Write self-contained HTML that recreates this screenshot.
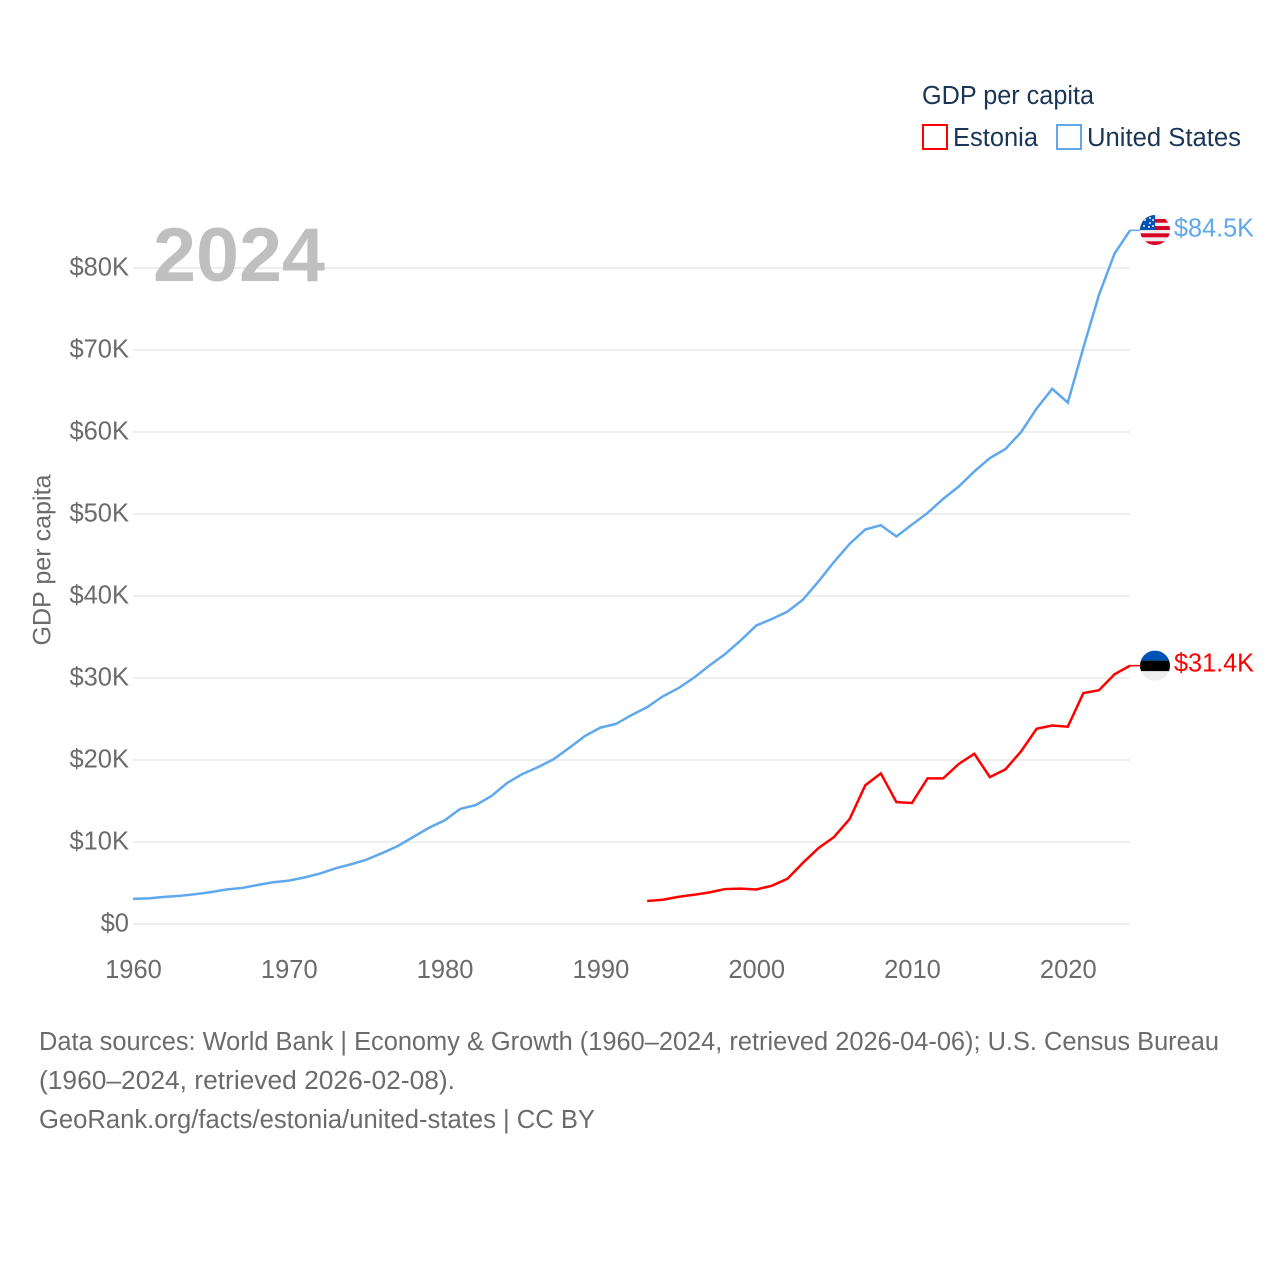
<!DOCTYPE html>
<html lang="en">
<head>
<meta charset="utf-8">
<title>GDP per capita: Estonia and United States</title>
<style>
html,body{margin:0;padding:0;background:#fff;width:1280px;height:1280px;overflow:hidden}
svg{display:block}
text{font-family:"Liberation Sans",sans-serif}
</style>
</head>
<body>
<svg id="chart" width="1280" height="1280" viewBox="0 0 1280 1280" xmlns="http://www.w3.org/2000/svg">
  <defs>
    <clipPath id="flag-clip"><circle cx="0" cy="0" r="15"></circle></clipPath>
  </defs>
  <rect x="0" y="0" width="1280" height="1280" fill="#ffffff"></rect>

  <g id="grid"></g>
  <g id="yticks"></g>
  <g id="xticks"></g>

  <text transform="translate(50.5 560) rotate(-90)" text-anchor="middle" font-size="25" fill="#6b6b6b" textLength="171" lengthAdjust="spacingAndGlyphs">GDP per capita</text>

  <text x="153" y="281" font-size="76" font-weight="700" fill="#bfbfbf" textLength="172" lengthAdjust="spacingAndGlyphs">2024</text>

  <g id="series" transform="translate(0 -0.5)"></g>

  <g id="flag-us">
    <g clip-path="url(#flag-clip)">
      <rect x="-15" y="-15" width="30" height="30" fill="#eeeeee"></rect>
      <rect x="-15" y="-11" width="30" height="3.7" fill="#d80027"></rect>
      <rect x="-15" y="-4" width="30" height="4" fill="#d80027"></rect>
      <rect x="-15" y="3.3" width="30" height="4" fill="#d80027"></rect>
      <rect x="-15" y="11.3" width="30" height="4" fill="#d80027"></rect>
      <rect x="-15" y="-15" width="15" height="15" fill="#0052b4"></rect>
      <circle cx="-10" cy="-10" r="1" fill="#eeeeee"></circle>
      <circle cx="-5" cy="-12" r="1" fill="#eeeeee"></circle>
      <circle cx="-5" cy="-7" r="1" fill="#eeeeee"></circle>
      <circle cx="-2" cy="-10" r="1" fill="#eeeeee"></circle>
      <circle cx="-11" cy="-4" r="1" fill="#eeeeee"></circle>
      <circle cx="-6" cy="-3" r="1" fill="#eeeeee"></circle>
      <circle cx="-2" cy="-4" r="1" fill="#eeeeee"></circle>
    </g>
  </g>
  <g id="flag-ee">
    <g clip-path="url(#flag-clip)">
      <rect x="-15" y="-15" width="30" height="30" fill="#eeeeee"></rect>
      <rect x="-15" y="-15" width="30" height="10" fill="#0052b4"></rect>
      <rect x="-15" y="-5" width="30" height="10.5" fill="#000000"></rect>
    </g>
  </g>

  <text id="label-us" x="1174" font-size="25.5" fill="#5fa8ee" textLength="80" lengthAdjust="spacingAndGlyphs"></text>
  <text id="label-ee" x="1174" font-size="25.5" fill="#ff0000" textLength="80" lengthAdjust="spacingAndGlyphs"></text>

  <g>
    <text x="922" y="104" font-size="25.5" fill="#1a3556" textLength="172" lengthAdjust="spacingAndGlyphs">GDP per capita</text>
    <g>
      <rect x="923" y="125" width="24" height="24" fill="none" stroke="#ff0000" stroke-width="2"></rect>
      <text x="953" y="146" font-size="25.5" fill="#1a3556" textLength="85" lengthAdjust="spacingAndGlyphs">Estonia</text>
    </g>
    <g>
      <rect x="1057" y="125" width="24" height="24" fill="none" stroke="#5fa8ee" stroke-width="2"></rect>
      <text x="1087" y="146" font-size="25.5" fill="#1a3556" textLength="154" lengthAdjust="spacingAndGlyphs">United States</text>
    </g>
  </g>

  <g font-size="25.5" fill="#6b6b6b">
    <text x="39" y="1050" textLength="1180" lengthAdjust="spacingAndGlyphs">Data sources: World Bank | Economy &amp; Growth (1960–2024, retrieved 2026-04-06); U.S. Census Bureau</text>
    <text x="39" y="1089" textLength="416" lengthAdjust="spacingAndGlyphs">(1960–2024, retrieved 2026-02-08).</text>
    <text x="39" y="1128" textLength="556" lengthAdjust="spacingAndGlyphs">GeoRank.org/facts/estonia/united-states | CC BY</text>
  </g>
</svg>

<script>
const yTickValues = [0, 10, 20, 30, 40, 50, 60, 70, 80];
const yTickLabels = ["$0", "$10K", "$20K", "$30K", "$40K", "$50K", "$60K", "$70K", "$80K"];
const xTickYears = [1960, 1970, 1980, 1990, 2000, 2010, 2020];
const usFirstYear = 1960;
const estoniaFirstYear = 1993;
const lastYear = 2024;
const usValues = [3.007, 3.067, 3.244, 3.375, 3.574, 3.828, 4.146, 4.336, 4.696, 5.032, 5.234, 5.609, 6.094, 6.726, 7.226, 7.801, 8.592, 9.453, 10.565, 11.674, 12.575, 13.976, 14.434, 15.544, 17.121, 18.237, 19.071, 20.039, 21.417, 22.857, 23.889, 24.342, 25.419, 26.387, 27.695, 28.691, 29.968, 31.459, 32.854, 34.515, 36.33, 37.134, 38.023, 39.496, 41.713, 44.115, 46.299, 48.05, 48.57, 47.195, 48.651, 50.066, 51.784, 53.291, 55.124, 56.763, 57.867, 59.915, 62.805, 65.2, 63.528, 70.219, 76.657, 81.695, 84.534];
const estoniaValues = [2.75, 2.9, 3.25, 3.5, 3.8, 4.2, 4.25, 4.15, 4.6, 5.45, 7.4, 9.2, 10.55, 12.75, 16.85, 18.3, 14.8, 14.7, 17.7, 17.7, 19.45, 20.7, 17.85, 18.8, 21.0, 23.75, 24.15, 24.0, 28.1, 28.45, 30.4, 31.45];
const usEndLabel = "$84.5K";
const estoniaEndLabel = "$31.4K";

const NS = "http://www.w3.org/2000/svg";
function xScale(year) { return 133 + (year - 1960) * 15.58; }
function yScale(value) { return 924 - value * 8.2; }
function make(tag, parent, attrs) {
  const el = document.createElementNS(NS, tag);
  for (const k in attrs) el.setAttribute(k, attrs[k]);
  parent.appendChild(el);
  return el;
}

const gridGroup = document.getElementById("grid");
const yTickGroup = document.getElementById("yticks");
yTickValues.forEach(function (v, i) {
  const line = make("line", gridGroup, { x1: xScale(1960), x2: xScale(lastYear), y1: yScale(v), y2: yScale(v), stroke: "#eeeeee", "stroke-width": 2 });
  
  
  const t = make("text", yTickGroup, { x: 129, y: yScale(v) + 7.5, "text-anchor": "end", "font-size": 25.5, fill: "#6b6b6b" });
  t.textContent = yTickLabels[i];
  
  
});

const xTickGroup = document.getElementById("xticks");
xTickYears.forEach(function (year) {
  const t = make("text", xTickGroup, { x: xScale(year) + 0.5, y: 978, "text-anchor": "middle", "font-size": 25.5, fill: "#6b6b6b" });
  t.textContent = String(year);
  
  
});

const seriesGroup = document.getElementById("series");
function pathFor(values, firstYear) {
  return values.map(function (v, i) {
    return (i ? "L" : "M") + xScale(firstYear + i).toFixed(2) + " " + yScale(v).toFixed(2);
  }).join(" ");
}
const usLine = make("path", seriesGroup, { d: pathFor(usValues, usFirstYear), fill: "none", stroke: "#5fa8ee", "stroke-width": 2.5, "stroke-linejoin": "miter" });


const estoniaLine = make("path", seriesGroup, { d: pathFor(estoniaValues, estoniaFirstYear), fill: "none", stroke: "#ff0000", "stroke-width": 2.5, "stroke-linejoin": "miter" });



const usLast = usValues[usValues.length - 1];
const estoniaLast = estoniaValues[estoniaValues.length - 1];
const usConnector = make("line", seriesGroup, { x1: xScale(lastYear), x2: xScale(lastYear) + 10, y1: yScale(usLast), y2: yScale(usLast), stroke: "#5fa8ee", "stroke-width": 1.5 });


const estoniaConnector = make("line", seriesGroup, { x1: xScale(lastYear), x2: xScale(lastYear) + 10, y1: yScale(estoniaLast), y2: yScale(estoniaLast), stroke: "#ff0000", "stroke-width": 1.5 });



document.getElementById("flag-us").setAttribute("transform", "translate(1155 " + (yScale(usLast) - 0.8) + ")");
document.getElementById("flag-ee").setAttribute("transform", "translate(1155 " + (yScale(estoniaLast) - 0.5) + ")");

const usLabel = document.getElementById("label-us");
usLabel.setAttribute("y", yScale(usLast) + 5.5);
usLabel.textContent = usEndLabel;
const estoniaLabel = document.getElementById("label-ee");
estoniaLabel.setAttribute("y", yScale(estoniaLast) + 5.5);
estoniaLabel.textContent = estoniaEndLabel;
</script>
</body>
</html>
